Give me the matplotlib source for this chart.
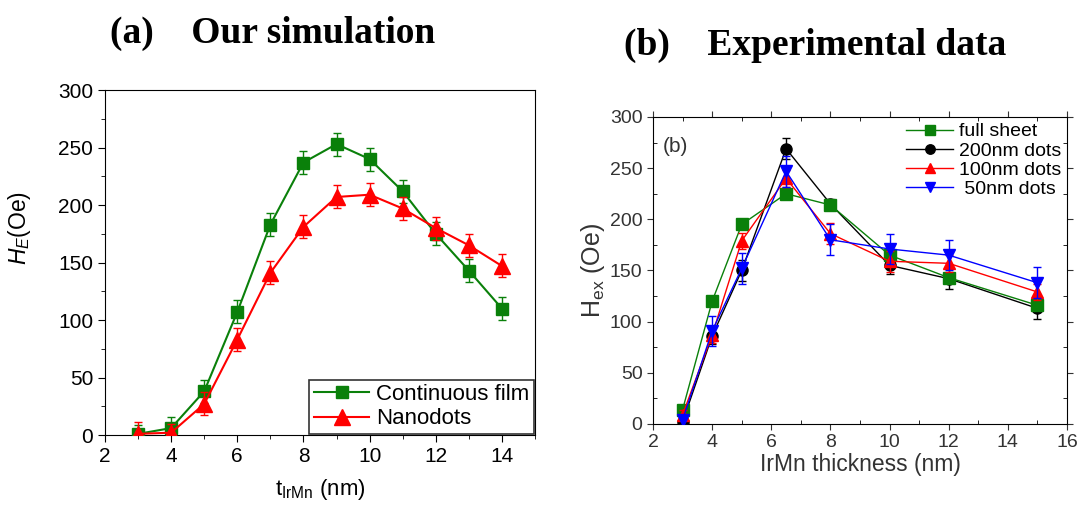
import matplotlib
matplotlib.use("Agg")
import matplotlib.pyplot as plt
from matplotlib.ticker import MultipleLocator

plt.rcParams["font.family"] = ["Liberation Sans", "DejaVu Sans"]
plt.rcParams["mathtext.fontset"] = "custom"
plt.rcParams["mathtext.rm"] = "Liberation Sans"
plt.rcParams["mathtext.it"] = "Liberation Sans:italic"

# ---- (a) simulation ----
t_sim = [3, 4, 5, 6, 7, 8, 9, 10, 11, 12, 13, 14]
film = [1, 6, 38, 107, 183, 237, 253, 240, 212, 175, 143, 110]
film_err = [8, 10, 10, 10, 10, 10, 10, 10, 10, 10, 10, 10]
dots = [1, 2, 27, 83, 141, 181, 207, 209, 197, 180, 165, 147]
dots_err = [10, 8, 10, 10, 10, 10, 10, 10, 10, 10, 10, 10]

# ---- (b) experiment ----
t_exp = [3, 4, 5, 6.5, 8, 10, 12, 15]
full_sheet = [14, 120, 195, 225, 214, 165, 143, 116]
full_sheet_err = [0, 0, 0, 0, 0, 0, 0, 0]
d200 = [2, 86, 150, 269, 215, 155, 142, 113]
d200_err = [5, 8, 10, 10, 5, 8, 10, 10]
d100 = [9, 87, 179, 240, 186, 159, 157, 129]
d100_err = [5, 8, 8, 8, 10, 10, 8, 8]
d50 = [4, 91, 152, 247, 180, 171, 165, 138]
d50_err = [5, 15, 15, 15, 15, 15, 15, 15]

GREEN = "#0a800a"
fig = plt.figure(figsize=(10.79, 5.08), dpi=100)


def series(ax, x, y, err, color, marker, ms, lw, label, z):
    ax.errorbar(x, y, yerr=err, fmt="none", ecolor=color, elinewidth=1, capsize=3, zorder=z)
    ax.plot(x, y, color=color, marker=marker, ms=ms, lw=lw, label=label, zorder=z)


# panel (a)
ax1 = fig.add_axes([0.0973, 0.1437, 0.3985, 0.679])
series(ax1, t_sim, film, film_err, GREEN, "s", 9, 1.5, "Continuous film", 3)
series(ax1, t_sim, dots, dots_err, "red", "^", 11, 1.5, "Nanodots", 4)
ax1.set_xlim(2, 15); ax1.set_ylim(0, 300)
ax1.xaxis.set_major_locator(MultipleLocator(2)); ax1.xaxis.set_minor_locator(MultipleLocator(1))
ax1.yaxis.set_major_locator(MultipleLocator(50)); ax1.yaxis.set_minor_locator(MultipleLocator(25))
ax1.tick_params(which="major", direction="out", length=5, labelsize=15)
ax1.tick_params(which="minor", direction="out", length=3)
ax1.set_xlabel(r"t$_{\mathrm{IrMn}}$ (nm)", fontsize=16, labelpad=8)
ax1.set_ylabel(r"$H_E$(Oe)", fontsize=16.5)
ax1.yaxis.set_label_coords(-0.168, 0.60)
leg = ax1.legend(loc="lower right", fontsize=16, frameon=True, fancybox=False,
                 edgecolor="black", borderpad=0.2, handlelength=2.5,
                 handletextpad=0.3, labelspacing=0.15, borderaxespad=0.05)
leg.get_frame().set_linewidth(1.2)
fig.text(0.102, 0.935, "(a)    Our simulation", fontsize=27, fontweight="bold",
         family="Liberation Serif", va="center")

# panel (b)
ax2 = fig.add_axes([0.6052, 0.1654, 0.3837, 0.6043])
series(ax2, t_exp, full_sheet, full_sheet_err, GREEN, "s", 8, 1, "full sheet", 3)
series(ax2, t_exp, d200, d200_err, "black", "o", 8, 1, "200nm dots", 2.5)
series(ax2, t_exp, d100, d100_err, "red", "^", 9, 1, "100nm dots", 4)
series(ax2, t_exp, d50, d50_err, "blue", "v", 9, 1, " 50nm dots", 5)
ax2.set_xlim(2, 16); ax2.set_ylim(0, 300)
ax2.xaxis.set_major_locator(MultipleLocator(2)); ax2.xaxis.set_minor_locator(MultipleLocator(1))
ax2.yaxis.set_major_locator(MultipleLocator(50)); ax2.yaxis.set_minor_locator(MultipleLocator(25))
ax2.tick_params(which="major", direction="out", length=4, labelsize=14, colors="#333333",
                top=True, right=True)
ax2.tick_params(which="minor", direction="in", length=3, top=True, right=True)
ax2.set_xlabel("IrMn thickness (nm)", fontsize=16.5, color="#333333", labelpad=1)
ax2.set_ylabel(r"H$_{\mathrm{ex}}$ (Oe)", fontsize=18, color="#333333", labelpad=2)
ax2.text(0.024, 0.885, "(b)", transform=ax2.transAxes, fontsize=15, color="#333333")
handles, labels = ax2.get_legend_handles_labels()
ax2.legend(handles, labels, loc="upper right", fontsize=14, frameon=False, handlelength=2.4,
           handletextpad=0.3, labelspacing=0.08, borderaxespad=0.1, borderpad=0.2,
           markerscale=0.85)
fig.text(0.578, 0.91, "(b)    Experimental data", fontsize=27, fontweight="bold",
         family="Liberation Serif", va="center")

fig.savefig("out.png", dpi=100)
